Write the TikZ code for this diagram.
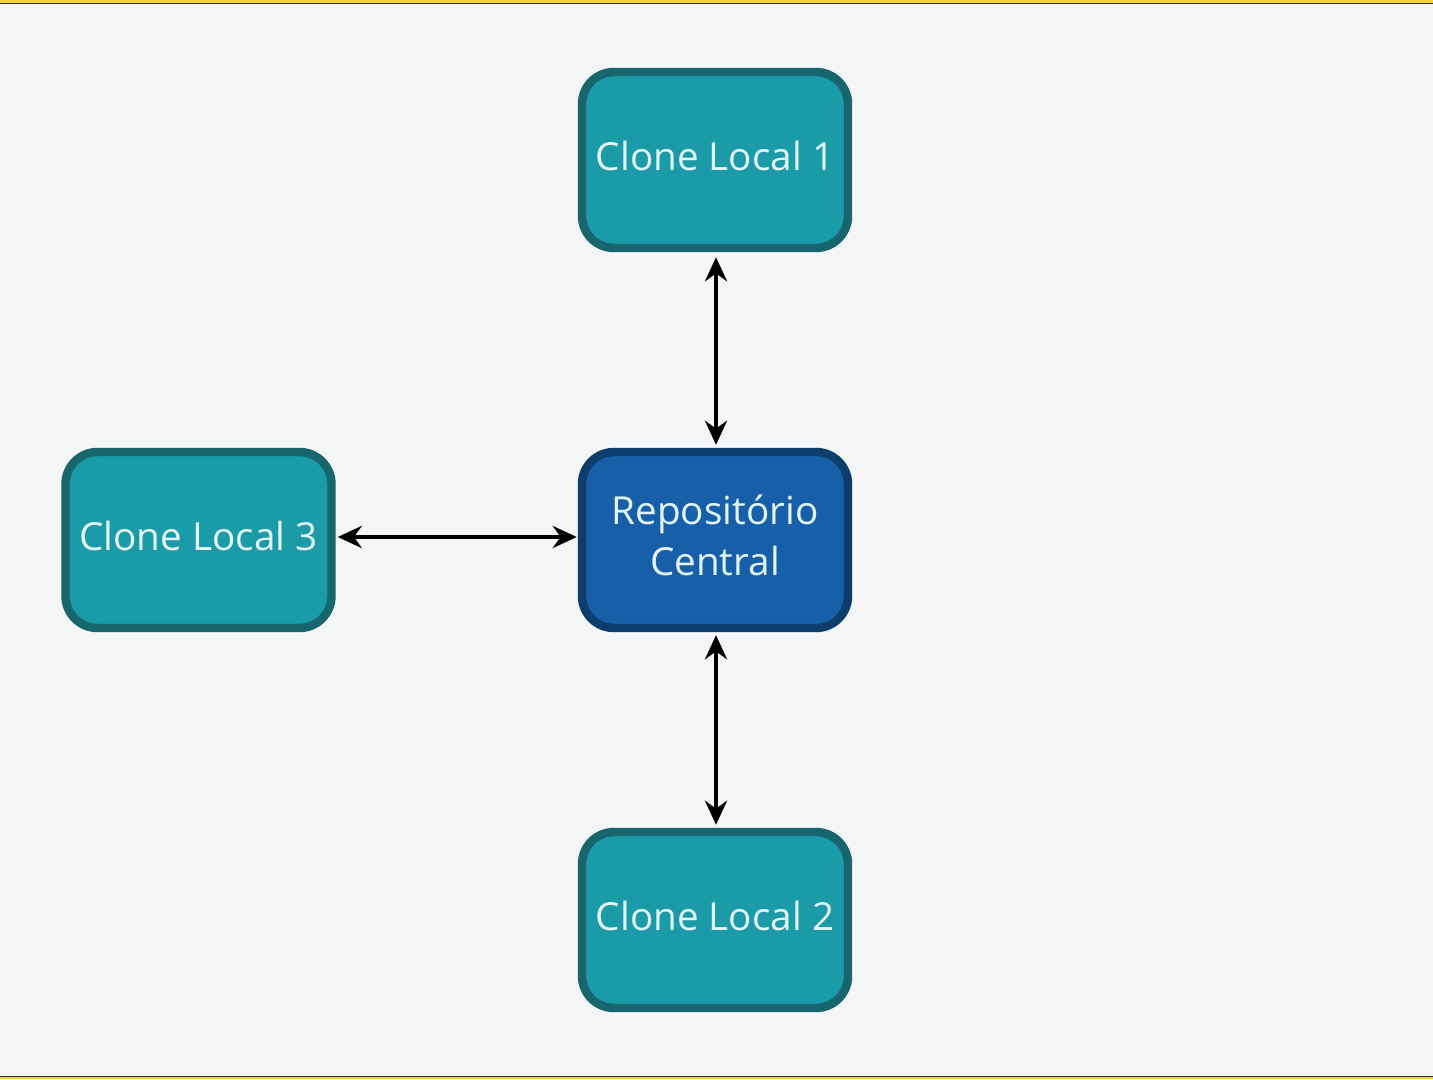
\documentclass[tikz,border=0pt]{standalone}
\usepackage{fontspec}
\setmainfont{Open Sans}
\usetikzlibrary{arrows.meta,positioning}
\definecolor{paper}{HTML}{F4F5F6}
\definecolor{tealfill}{HTML}{1B9AA8}
\definecolor{tealline}{HTML}{17656D}
\definecolor{bluefill}{HTML}{1760A9}
\definecolor{blueline}{HTML}{0D3D6B}
\definecolor{txt}{HTML}{E2F5F8}
\definecolor{frameyellow}{HTML}{F2D531}
\tikzset{clonebox/.style={draw=tealline, fill=tealfill, line width=2.4pt, rounded corners=3.2mm,
           minimum width=2.66cm, minimum height=1.76cm, text=txt, font=\fontsize{11}{14.5}\selectfont, align=center},
         centralbox/.style={clonebox, draw=blueline, fill=bluefill},
         link/.style={black, line width=1.4pt, {Stealth[length=2.4mm,width=2.2mm]}-{Stealth[length=2.4mm,width=2.2mm]}}}

\begin{document}
\begin{tikzpicture}
       \fill[paper] (0,0) rectangle (14.33,10.79);
       \useasboundingbox (0,0) rectangle (14.33,10.79);
       \fill[black!80] (0,10.745) rectangle (14.33,10.76);
       \fill[frameyellow] (0,10.755) rectangle (14.33,10.79);
       \fill[black!80] (0,0.02) rectangle (14.33,0.035);
       \fill[frameyellow] (0,0) rectangle (14.33,0.025);
        \node[centralbox] (central) at (7.15,5.39) {\raisebox{0.9mm}{\begin{tabular}{@{}c@{}}Repositório\\Central\end{tabular}}};
        \node[clonebox] (clone1) at (7.15,9.19) {\raisebox{0.9mm}{Clone Local 1}};
        \node[clonebox] (clone2) at (7.15,1.59) {\raisebox{0.9mm}{Clone Local 2}};
        \node[clonebox] (clone3) at (1.985,5.39) {\raisebox{0.9mm}{Clone Local 3}};
        \draw[link,shorten <=0.5mm,shorten >=0.3mm] ([xshift=0.01cm]clone1.south) -- ([xshift=0.01cm]central.north);
        \draw[link,shorten <=0.3mm,shorten >=0.3mm] ([xshift=0.01cm]central.south) -- ([xshift=0.01cm]clone2.north);
        \draw[link,shorten <=0.2mm,shorten >=0.1mm] ([yshift=0.03cm]clone3.east) -- ([yshift=0.03cm]central.west);
\end{tikzpicture}
\end{document}
